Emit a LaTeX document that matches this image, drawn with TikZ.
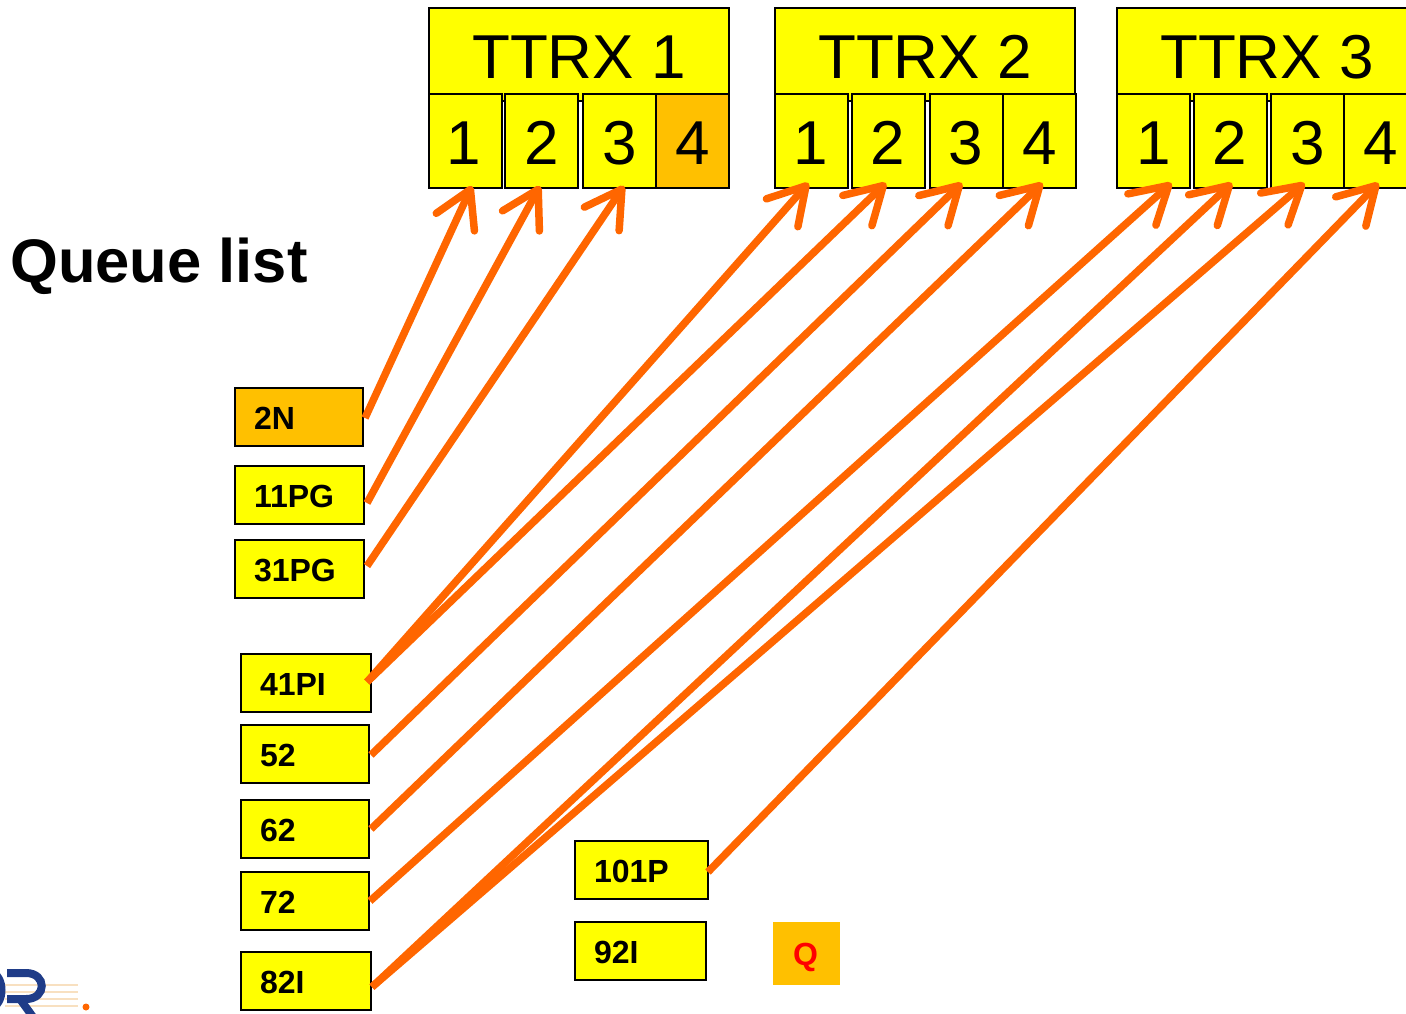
\documentclass[tikz,border=0pt]{standalone}
\usepackage{fontspec}
\setmainfont{Liberation Sans}
\usetikzlibrary{arrows.meta}
\definecolor{amber}{HTML}{FFC000}
\definecolor{boxy}{HTML}{FFFF00}
\definecolor{arrowor}{HTML}{FF6600}
\definecolor{logob}{HTML}{1F3C88}
\definecolor{logol}{HTML}{F8E0C0}
\tikzset{
  x=1pt,y=-1pt,
  title/.style={draw=black,line width=2pt,fill=boxy,outer sep=0pt,minimum height=93pt,minimum width=300pt,anchor=north west,inner sep=0pt,text height=47.4pt,text depth=0pt,font=\fontsize{62}{62}\selectfont},
  cell/.style={draw=black,line width=2pt,fill=boxy,outer sep=0pt,minimum height=94pt,minimum width=73pt,anchor=north west,inner sep=0pt,text height=47.4pt,text depth=0pt,font=\fontsize{62}{62}\selectfont},
  qbox/.style={draw=black,line width=2pt,fill=boxy,outer sep=0pt,minimum height=58pt,anchor=north west,inner xsep=19pt,inner ysep=0pt,align=left,text height=25pt,text depth=0pt,font=\fontsize{32}{34}\selectfont\bfseries},
  link/.style={draw=arrowor,line width=7.5pt,-{Straight Barb[length=36pt,width=42pt,round]}},
}
\begin{document}
\begin{tikzpicture}
\useasboundingbox (0,0) rectangle (1406,1013);
\clip (0,0) rectangle (1406,1013);
% logo fragment
\foreach \yy in {985,992,999,1006}{\draw[logol,line width=1.5pt] (5,\yy) -- (78,\yy);}
\draw[logob,line width=8pt] (-9,972) .. controls (5,976) and (5,1004) .. (-9,1008);
\draw[logob,line width=8pt] (7,973) -- (26,973) .. controls (47,973) and (47,999) .. (26,999) -- (7,999);
\draw[logob,line width=8pt] (20,999) -- (33,1017);
\fill[arrowor] (86,1007) circle (3.5pt);
\node[anchor=base west,inner sep=0pt,font=\fontsize{61.5}{64}\selectfont\bfseries] (qtitle) at (10,282) {Queue list};
% transceivers
\node[title] (ta) at (429,8) {TTRX 1};
\node[title] (tb) at (775,8) {TTRX 2};
\node[title] (tc) at (1117,8) {TTRX 3};
\node[cell] (a1) at (429,94) {\hspace{-4pt}1};
\node[cell] (a2) at (505,94) {2};
\node[cell] (a3) at (583,94) {3};
\node[cell,fill=amber] (a4) at (656,94) {4};
\node[cell] (b1) at (775,94) {\hspace{-1pt}1};
\node[cell] (b2) at (851.5,94) {2};
\node[cell] (b3) at (929.5,94) {3};
\node[cell] (b4) at (1003,94) {4};
\node[cell] (c1) at (1117,94) {1};
\node[cell] (c2) at (1193.5,94) {2};
\node[cell] (c3) at (1271,94) {3};
\node[cell] (c4) at (1344,94) {4};
% queue
\node[qbox,fill=amber,text width=90pt] (q2) at (235,388) {2N};
\node[qbox,text width=91pt] (q11) at (235,466) {11PG};
\node[qbox,text width=91pt] (q31) at (235,540) {31PG};
\node[qbox,text width=92pt] (q41) at (241,654) {41PI};
\node[qbox,text width=90pt] (q52) at (241,725) {52};
\node[qbox,text width=90pt] (q62) at (241,800) {62};
\node[qbox,text width=90pt] (q72) at (241,872) {72};
\node[qbox,text width=92pt] (q82) at (241,952) {82I};
\node[qbox,text width=95pt] (q101) at (575,841) {101P};
\node[qbox,text width=93pt] (q92) at (575,922) {92I};
\node[anchor=north west,fill=amber,outer sep=0pt,minimum width=67pt,minimum height=63pt,inner sep=0pt,text height=23pt,text depth=0pt,text=red,font=\fontsize{32}{34}\selectfont\bfseries] (qq) at (773,922) {\hspace{-2pt}Q};
% connectors
\draw[link] ([xshift=2pt,yshift=-1pt]q2.east) -- ([xshift=6.5pt,yshift=2pt]a1.south);
\draw[link] ([xshift=3pt,yshift=-8pt]q11.east) -- ([xshift=-1.5pt,yshift=2pt]a2.south);
\draw[link] ([xshift=3pt,yshift=3pt]q31.east) -- ([xshift=4.5pt,yshift=2pt]a3.south);
\draw[link] ([xshift=-4pt,yshift=1pt]q41.east) -- ([xshift=-3pt,yshift=5pt]b1.south);
\draw[link] ([xshift=-4pt,yshift=1pt]q41.east) -- ([xshift=-2pt,yshift=5pt]b2.south);
\draw[link] ([xshift=2pt,yshift=-1pt]q52.east) -- ([xshift=-4pt,yshift=5pt]b3.south);
\draw[link] ([xshift=2pt]q62.east) -- ([xshift=3pt,yshift=5pt]b4.south);
\draw[link] ([xshift=1pt]q72.east) -- ([xshift=18pt,yshift=5pt]c1.south);
\draw[link] ([xshift=1pt,yshift=-6pt]q82.east) -- ([xshift=2pt,yshift=5pt]c2.south);
\draw[link] ([xshift=1pt,yshift=-6pt]q82.east) -- ([xshift=-3pt,yshift=5pt]c3.south);
\draw[link] ([xshift=0pt,yshift=-2pt]q101.east) -- ([xshift=-2pt,yshift=5pt]c4.south);
\end{tikzpicture}
\end{document}
